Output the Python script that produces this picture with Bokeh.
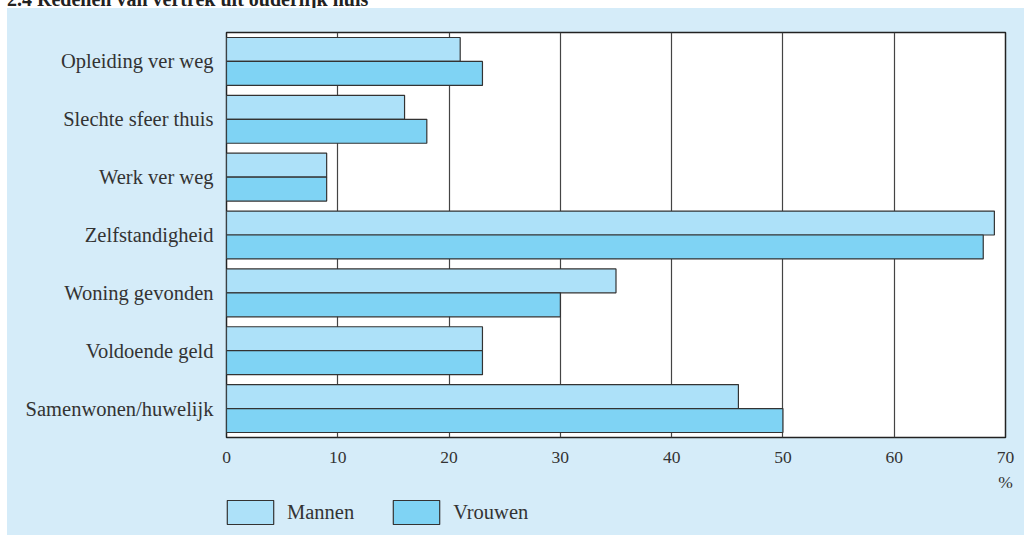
from bokeh.plotting import figure
from bokeh.models import (FactorRange, Range1d, FixedTicker, LinearAxis, Legend,
                          LegendItem, ColumnDataSource, Div, Spacer)
from bokeh.transform import dodge
from bokeh.layouts import column, row
from bokeh.embed import file_html
from bokeh.resources import INLINE

categories = ["Opleiding ver weg", "Slechte sfeer thuis", "Werk ver weg",
              "Zelfstandigheid", "Woning gevonden", "Voldoende geld",
              "Samenwonen/huwelijk"]
mannen = [21, 16, 9, 69, 35, 23, 46]
vrouwen = [23, 18, 9, 68, 30, 23, 50]
x_ticks = [0, 10, 20, 30, 40, 50, 60, 70]
series = ["Mannen", "Vrouwen"]
title_text = "2.4 Redenen van vertrek uit ouderlijk huis"
unit_label = "%"

FONT = "Liberation Serif"
PANEL = "#d5ecf9"
C_M = "#ade1f9"
C_V = "#7fd3f4"
EDGE = "#333333"
TXT = "#333333"

src = ColumnDataSource(dict(cat=categories, mannen=mannen, vrouwen=vrouwen))

p = figure(width=1017, height=489, output_backend="svg", toolbar_location=None,
           title=None,
           y_range=FactorRange(factors=list(reversed(categories)), range_padding=0),
           x_range=Range1d(0, 70),
           min_border_left=219, min_border_right=19, min_border_top=24,
           min_border_bottom=60)
p.background_fill_color = "white"
p.border_fill_color = PANEL
p.outline_line_color = "#222222"
p.outline_line_width = 1.5

rm = p.hbar(y=dodge("cat", 0.207, range=p.y_range), left=0, right="mannen",
            height=0.414, source=src, fill_color=C_M, line_color=EDGE, line_width=1.2)
rv = p.hbar(y=dodge("cat", -0.207, range=p.y_range), left=0, right="vrouwen",
            height=0.414, source=src, fill_color=C_V, line_color=EDGE, line_width=1.2)

p.ygrid.grid_line_color = None
p.xgrid.grid_line_color = "#444444"
p.xgrid.grid_line_width = 1.2

xa = p.xaxis[0]
xa.ticker = FixedTicker(ticks=x_ticks)
xa.axis_line_color = None
xa.major_tick_in = 0
xa.major_tick_out = 0
xa.minor_tick_in = 0
xa.minor_tick_out = 0
xa.major_label_standoff = 14
xa.major_label_text_font = FONT
xa.major_label_text_font_size = "17.5px"
xa.major_label_text_color = TXT

ua = LinearAxis(ticker=FixedTicker(ticks=[70]), major_label_overrides={70: unit_label})
ua.axis_line_color = None
ua.major_tick_in = 0
ua.major_tick_out = 0
ua.minor_tick_in = 0
ua.minor_tick_out = 0
ua.major_label_standoff = 6
ua.major_label_text_font = FONT
ua.major_label_text_font_size = "17.5px"
ua.major_label_text_color = TXT
p.add_layout(ua, "below")

ya = p.yaxis[0]
ya.axis_line_color = None
ya.major_tick_in = 0
ya.major_tick_out = 0
ya.major_label_standoff = 13
ya.major_label_text_font = FONT
ya.major_label_text_font_size = "20.5px"
ya.major_label_text_color = TXT

# legend strip below the chart (key renderers are hidden; only their legend swatches show)
lg = figure(width=1017, height=38, output_backend="svg", toolbar_location=None,
            title=None,
            x_range=Range1d(0, 70), y_range=FactorRange(factors=categories),
            x_axis_location=None, y_axis_location=None,
            min_border_left=219, min_border_right=19, min_border_top=0,
            min_border_bottom=0)
lg.background_fill_color = PANEL
lg.border_fill_color = PANEL
lg.outline_line_color = None
lg.grid.visible = False
km = lg.hbar(y="cat", left=0, right="mannen", height=0.4, source=src,
             fill_color=C_M, line_color=EDGE, line_width=1.2, visible=False)
kv = lg.hbar(y="cat", left=0, right="vrouwen", height=0.4, source=src,
             fill_color=C_V, line_color=EDGE, line_width=1.2, visible=False)

legend = Legend(items=[LegendItem(label=series[0], renderers=[km]),
                       LegendItem(label=series[1], renderers=[kv])],
                orientation="horizontal", location=(-5, 8),
                glyph_width=58, glyph_height=30, label_standoff=8, spacing=33,
                padding=0, margin=0, border_line_alpha=0, background_fill_alpha=0,
                label_text_font=FONT, label_text_font_size="20.5px",
                label_text_color=TXT)
lg.add_layout(legend, "center")

title_div = Div(
    text=('<div style="position:relative;top:-11px;left:7px;white-space:nowrap;'
          'font-family:\'Liberation Serif\';font-weight:bold;font-size:20px;'
          'line-height:20px;color:#222">' + title_text + '</div>'),
    width=1024, height=8, margin=0, styles={"overflow": "hidden"})

chart = column(p, lg, spacing=0, styles={"background-color": PANEL})
layout = column(title_div,
                row(Spacer(width=7, height=527, margin=0), chart, spacing=0),
                spacing=0)
open("out.html", "w").write(file_html(layout, INLINE))
